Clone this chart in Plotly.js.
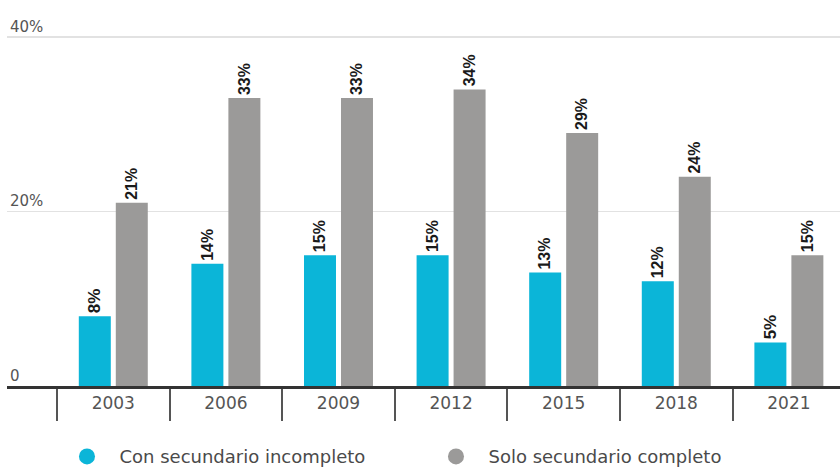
<!DOCTYPE html>
<html>
<head>
<meta charset="utf-8">
<script src="https://cdn.plot.ly/plotly-3.0.1.min.js"></script>
<style>html,body{margin:0;padding:0;background:#fff;}#chart{width:840px;height:468px;}</style>
</head>
<body>
<div id="chart"></div>
<script>
const years = ["2003", "2006", "2009", "2012", "2015", "2018", "2021"];
const incompleto = [8, 14, 15, 15, 13, 12, 5];
const completo = [21, 33, 33, 34, 29, 24, 15];
const seriesNames = ["Con secundario incompleto", "Solo secundario completo"];
const yTickVals = [0, 20, 40];
const yTickText = ["0", "20%", "40%"];

const blue = "#0bb5d8";
const gray = "#9b9a99";
const labelFont = {family: "Liberation Sans Narrow, Arial Narrow, sans-serif", size: 17, color: "#1a1a1a"};

function barTrace(vals, name, color) {
  return {
    type: "bar", x: years, y: vals, name: name, showlegend: false,
    marker: {color: color},
    text: vals.map(v => "<b>" + v + "%</b>"),
    textposition: "outside", textangle: -90,
    textfont: labelFont, cliponaxis: false,
    hoverinfo: "skip"
  };
}
function legendTrace(name, color) {
  return {
    type: "scatter", mode: "markers", x: [null], y: [null], name: name,
    marker: {color: color, size: 18, symbol: "circle"}, showlegend: true
  };
}

const data = [
  barTrace(incompleto, seriesNames[0], blue),
  barTrace(completo, seriesNames[1], gray),
  legendTrace(seriesNames[0], blue),
  legendTrace(seriesNames[1], gray)
];

const layout = {
  width: 840, height: 468,
  margin: {l: 7, r: 0, t: 10, b: 82, autoexpand: false},
  paper_bgcolor: "#fff", plot_bgcolor: "#fff",
  barmode: "group", bargap: 0.343, bargroupgap: 0.135,
  font: {family: "DejaVu Sans, sans-serif", color: "#555"},
  xaxis: {
    type: "category", range: [-0.944, 6.454],
    showline: true, linecolor: "#333", linewidth: 2.5,
    ticks: "outside", tickson: "boundaries", ticklen: 32, tickwidth: 2, tickcolor: "#555",
    ticklabelstandoff: 0,
    tickfont: {family: "DejaVu Sans, sans-serif", size: 17, color: "#555"},
    showgrid: false, zeroline: false, fixedrange: true
  },
  yaxis: {
    range: [0, 43.1],
    tickvals: yTickVals, ticktext: yTickText,
    ticklabelposition: "inside top",
    tickfont: {family: "DejaVu Sans, sans-serif", size: 15, color: "#555"},
    showgrid: true, gridcolor: "#e2e2e2", gridwidth: 1.5,
    zeroline: false, showline: false, ticks: "", fixedrange: true
  },
  showlegend: true,
  legend: {
    orientation: "h", x: 0.057, xanchor: "left",
    yref: "container", y: 0.024, yanchor: "middle",
    font: {family: "DejaVu Sans, sans-serif", size: 18, color: "#4a4a4a"},
    itemwidth: 55, entrywidth: 299, bgcolor: "rgba(0,0,0,0)"
  }
};

Plotly.newPlot("chart", data, layout, {displayModeBar: false, staticPlot: true});
</script>
</body>
</html>
